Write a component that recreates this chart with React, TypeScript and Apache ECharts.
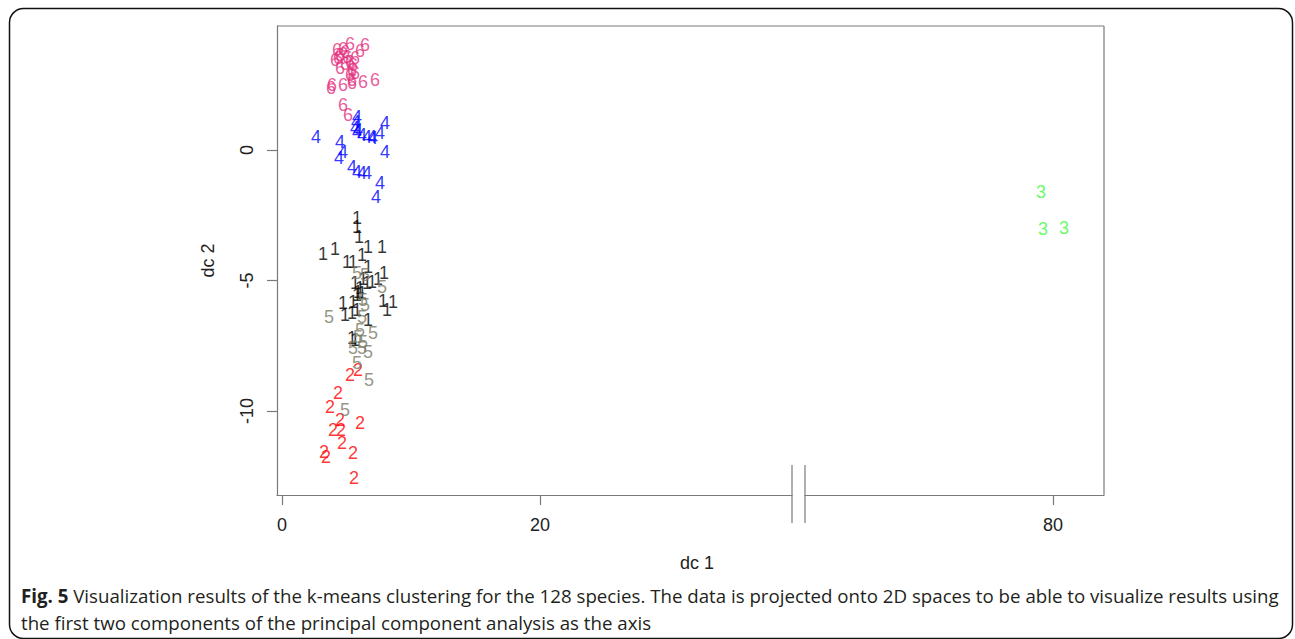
import React, { useEffect, useRef } from "react";
import * as echarts from "echarts";

// cluster values [dc1, dc2]
const CLUSTER_1 = [
  [5.81, -2.61], [5.81, -2.95], [5.97, -3.33], [3.18, -3.98], [4.11, -3.79],
  [5.04, -4.29], [5.5, -4.29], [6.2, -4.02], [6.67, -3.72], [7.75, -3.72],
  [6.67, -4.48], [5.66, -5.1], [6.59, -5.1], [6.98, -5.06], [7.44, -4.94],
  [7.91, -4.71], [5.89, -5.44], [5.81, -5.56], [4.73, -5.86], [5.5, -5.82],
  [7.83, -5.79], [8.6, -5.82], [8.14, -6.13], [4.88, -6.32], [5.43, -6.25],
  [5.81, -6.13], [6.67, -6.51], [5.43, -7.2], [5.66, -7.28], [6.05, -5.29],
  [6.2, -5.48], [6.28, -4.94],
];
const CLUSTER_2 = [
  [5.27, -8.62], [5.89, -8.43], [4.34, -9.31], [3.72, -9.85], [4.5, -10.34],
  [6.05, -10.46], [3.95, -10.73], [4.57, -10.73], [4.65, -11.23], [3.26, -11.57],
  [3.41, -11.76], [5.5, -11.61], [5.58, -12.57],
];
const CLUSTER_3 = [[79.07, -1.61], [79.22, -3.03], [80.85, -2.99]];
const CLUSTER_4 = [
  [5.81, 1.26], [7.98, 1.03], [5.66, 0.84], [5.81, 0.69], [6.2, 0.57],
  [6.59, 0.5], [6.98, 0.5], [7.05, 0.46], [7.6, 0.65], [2.64, 0.5],
  [4.5, 0.31], [4.73, -0.08], [4.42, -0.31], [7.98, -0.08], [5.43, -0.65],
  [5.81, -0.84], [6.2, -0.88], [6.59, -0.88], [7.6, -1.26], [7.29, -1.8],
  [5.74, 1.07], [5.89, 0.77],
];
const CLUSTER_5 = [
  [5.81, -4.71], [6.43, -4.79], [7.75, -5.25], [6.28, -5.75], [6.43, -5.94],
  [3.64, -6.4], [6.2, -6.4], [6.05, -6.9], [7.05, -7.01], [5.89, -7.16],
  [6.28, -7.36], [5.5, -7.59], [6.2, -7.59], [6.67, -7.74], [5.81, -8.16],
  [6.74, -8.81], [4.88, -9.96],
];
const CLUSTER_6 = [
  [5.27, 4.06], [6.43, 4.02], [4.26, 3.83], [4.73, 3.87], [6.05, 3.79],
  [4.5, 3.64], [5.04, 3.56], [4.11, 3.45], [5.27, 3.37], [5.5, 3.26],
  [4.5, 3.14], [5.43, 3.07], [5.27, 2.87], [5.43, 2.68], [3.88, 2.49],
  [3.8, 2.38], [4.73, 2.49], [5.43, 2.57], [6.28, 2.61], [7.21, 2.68],
  [4.73, 1.72], [5.12, 1.34], [4.88, 3.75], [4.34, 3.52], [5.66, 3.52],
  [4.88, 3.3], [5.66, 2.95],
];

const X_TICKS_LEFT = [0, 20];
const X_TICKS_RIGHT = [80];
const Y_TICKS = [-10, -5, 0];

const CAPTION_BOLD = "Fig. 5";
const CAPTION_LINE1 =
  " Visualization results of the k-means clustering for the 128 species. The data is projected onto 2D spaces to be able to visualize results using";
const CAPTION_LINE2 =
  "the first two components of the principal component analysis as the axis";

const AXIS_GREY = "#7a7a7a";
const TEXT_COL = "#222222";

const clusters = [
  { name: "1", data: CLUSTER_1, color: "#000000", axis: 0 },
  { name: "2", data: CLUSTER_2, color: "#ff0000", axis: 0 },
  { name: "3", data: CLUSTER_3, color: "#3dfa3d", axis: 1 },
  { name: "4", data: CLUSTER_4, color: "#0000ff", axis: 0 },
  { name: "5", data: CLUSTER_5, color: "#7b7b68", axis: 0 },
  { name: "6", data: CLUSTER_6, color: "#e3337f", axis: 0 },
];

export default function App() {
  const ref = useRef<HTMLDivElement>(null);
  useEffect(() => {
    const chart = echarts.init(ref.current!, null, { renderer: "svg" });
    const axisLabelFont = { color: TEXT_COL, fontSize: 18, fontFamily: "Liberation Sans" };
    const lineStyle = { color: AXIS_GREY, width: 1.2 };
    const option: any = {
      animation: false,
      backgroundColor: "#ffffff",
      grid: [
        { left: 277, top: 26, width: 515, height: 469 },
        { left: 805, top: 26, width: 299, height: 469 },
      ],
      xAxis: [
        {
          type: "value", gridIndex: 0, min: -0.388, max: 39.535,
          axisLine: { show: true, onZero: false, lineStyle },
          axisTick: { show: true, customValues: X_TICKS_LEFT, length: 10, lineStyle },
          axisLabel: { show: true, customValues: X_TICKS_LEFT, margin: 21, ...axisLabelFont },
          splitLine: { show: false },
        },
        {
          type: "value", gridIndex: 1, min: 60.77, max: 83.95,
          axisLine: { show: true, onZero: false, lineStyle },
          axisTick: { show: true, customValues: X_TICKS_RIGHT, length: 10, lineStyle },
          axisLabel: { show: true, customValues: X_TICKS_RIGHT, margin: 21, ...axisLabelFont },
          splitLine: { show: false },
        },
      ],
      yAxis: [
        {
          type: "value", gridIndex: 0, min: -13.22, max: 4.75,
          name: "dc 2", nameLocation: "middle", nameRotate: 90, nameGap: 60,
          nameTextStyle: { ...axisLabelFont },
          axisLine: { show: true, onZero: false, lineStyle },
          axisTick: { show: true, customValues: Y_TICKS, length: 10, lineStyle },
          axisLabel: { show: true, customValues: Y_TICKS, rotate: 90, margin: 21, ...axisLabelFont },
          splitLine: { show: false },
        },
        {
          type: "value", gridIndex: 1, min: -13.22, max: 4.75, show: false,
          axisLine: { onZero: false },
          splitLine: { show: false },
        },
      ],
      graphic: [
        {
          type: "rect", shape: { x: 9.5, y: 8.5, width: 1283, height: 630, r: 14 },
          style: { fill: "none", stroke: "#111", lineWidth: 1.5 }, silent: true,
        },
        { type: "line", shape: { x1: 277, y1: 26, x2: 1104, y2: 26 }, style: { stroke: AXIS_GREY, lineWidth: 1.2 } },
        { type: "line", shape: { x1: 1104, y1: 26, x2: 1104, y2: 495 }, style: { stroke: AXIS_GREY, lineWidth: 1.2 } },
        { type: "line", shape: { x1: 792, y1: 465, x2: 792, y2: 523 }, style: { stroke: AXIS_GREY, lineWidth: 1.2 } },
        { type: "line", shape: { x1: 805, y1: 465, x2: 805, y2: 523 }, style: { stroke: AXIS_GREY, lineWidth: 1.2 } },
        {
          type: "text", x: 697, y: 563,
          style: { text: "dc 1", fill: TEXT_COL, fontSize: 18, fontFamily: "Liberation Sans", textAlign: "center", textVerticalAlign: "middle" },
        },
        {
          type: "text", x: 21, y: 582,
          style: {
            text: "{b|" + CAPTION_BOLD + "}{r|" + CAPTION_LINE1 + "}\n{r|" + CAPTION_LINE2 + "}",
            fill: "#231f20", fontFamily: "Open Sans", fontSize: 18.7, lineHeight: 27,
            rich: {
              b: { fontWeight: "bold", fontFamily: "Open Sans", fontSize: 18.7, lineHeight: 27, fill: "#231f20" },
              r: { fontFamily: "Open Sans", fontSize: 18.7, lineHeight: 27, fill: "#231f20" },
            },
          },
        },
      ],
      series: clusters.map((c) => ({
        type: "scatter",
        name: c.name,
        xAxisIndex: c.axis,
        yAxisIndex: c.axis,
        data: c.data,
        symbolSize: 1,
        itemStyle: { color: "rgba(0,0,0,0)" },
        silent: true,
        emphasis: { disabled: true },
        label: {
          show: true, position: "inside", formatter: c.name,
          color: c.color, fontSize: 18, fontFamily: "Liberation Sans",
        },
      })),
    };
    chart.setOption(option);
    return () => chart.dispose();
  }, []);
  return (
    <div
      ref={ref}
      style={{ position: "fixed", left: 0, top: 0, width: 1295, height: 639, background: "#fff" }}
    />
  );
}
